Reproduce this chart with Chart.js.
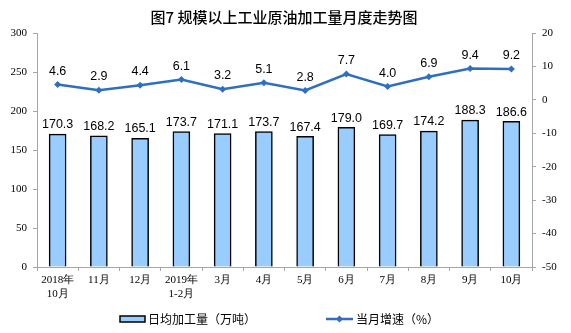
<!DOCTYPE html>
<html>
<head>
<meta charset="utf-8">
<script src="https://cdn.jsdelivr.net/npm/chart.js@4/dist/chart.umd.min.js"></script>
<style>
  html, body { margin: 0; padding: 0; background: #fff; }
  #wrap { width: 571px; height: 333px; }
</style>
</head>
<body>
<div id="wrap"><canvas id="myChart" width="571" height="333"></canvas></div>
<script>
const months = [
  ["2018年", "10月"], "11月", "12月", ["2019年", "1-2月"], "3月", "4月",
  "5月", "6月", "7月", "8月", "9月", "10月",
];
const dailyOutput = [170.3, 168.2, 165.1, 173.7, 171.1, 173.7, 167.4, 179.0, 169.7, 174.2, 188.3, 186.6];
const growthRate = [4.6, 2.9, 4.4, 6.1, 3.2, 5.1, 2.8, 7.7, 4.0, 6.9, 9.4, 9.2];
const leftTicks = [0, 50, 100, 150, 200, 250, 300];
const rightTicks = [-50, -40, -30, -20, -10, 0, 10, 20];

const titleText = "图7 规模以上工业原油加工量月度走势图";
const barLabel = "日均加工量（万吨）";
const lineLabel = "当月增速（%）";

const barColor = "#99CCFF";
const lineColor = "#2F6FBF";
const axisColor = "#A6A6A6";
const serif = "'Liberation Serif', 'Times New Roman', serif";
const sans = "'Liberation Sans', Arial, 'Noto Sans CJK SC', sans-serif";
const cjk = "'Noto Sans CJK SC', sans-serif";

// title, value labels and bottom legend
const extras = {
  id: "extras",
  afterDatasetsDraw(chart) {
    const c = chart.ctx;
    c.save();
    c.fillStyle = "#000";
    c.font = "500 15px " + cjk;
    c.textAlign = "center";
    c.textBaseline = "middle";
    c.fillText(titleText, 284, 17);

    c.font = "12.5px " + sans;
    c.textBaseline = "bottom";
    chart.getDatasetMeta(0).data.forEach((bar, i) => {
      c.fillText(dailyOutput[i].toFixed(1), bar.x, bar.y - 3);
    });
    chart.getDatasetMeta(1).data.forEach((pt, i) => {
      c.fillText(growthRate[i].toFixed(1), pt.x, pt.y - 7);
    });

    // legend
    c.font = "12px " + cjk;
    c.textAlign = "left";
    c.textBaseline = "middle";
    const ly = 319;
    c.fillStyle = barColor;
    c.strokeStyle = "#000";
    c.lineWidth = 1.5;
    c.fillRect(120, ly - 3, 25, 6);
    c.strokeRect(120, ly - 3, 25, 6);
    c.fillStyle = "#000";
    c.fillText(barLabel, 148, ly);

    c.strokeStyle = lineColor;
    c.lineWidth = 2.5;
    c.beginPath();
    c.moveTo(326, ly);
    c.lineTo(353, ly);
    c.stroke();
    c.fillStyle = lineColor;
    c.beginPath();
    c.moveTo(339.5, ly - 3.5);
    c.lineTo(343, ly);
    c.lineTo(339.5, ly + 3.5);
    c.lineTo(336, ly);
    c.closePath();
    c.fill();
    c.fillStyle = "#000";
    c.fillText(lineLabel, 356, ly);
    c.restore();
  },
};

const ctx = document.getElementById("myChart").getContext("2d");
new Chart(ctx, {
  data: {
    labels: months,
    datasets: [
      {
        type: "bar",
        label: barLabel,
        data: dailyOutput,
        yAxisID: "y",
        backgroundColor: barColor,
        borderColor: "#000",
        borderWidth: 1.5,
        barThickness: 17,
        order: 2,
      },
      {
        type: "line",
        label: lineLabel,
        data: growthRate,
        yAxisID: "y1",
        borderColor: lineColor,
        backgroundColor: lineColor,
        borderWidth: 2.5,
        pointStyle: "rectRot",
        pointRadius: 3.5,
        pointBorderWidth: 0,
        tension: 0,
        order: 1,
      },
    ],
  },
  options: {
    responsive: false,
    animation: false,
    layout: { padding: { top: 33, left: 0, right: 0, bottom: 0 } },
    plugins: {
      legend: { display: false },
      tooltip: { enabled: false },
    },
    scales: {
      x: {
        offset: true,
        grid: {
          offset: true,
          drawOnChartArea: false,
          drawTicks: true,
          tickLength: 4,
          color: axisColor,
        },
        border: { color: axisColor },
        ticks: {
          color: "#000",
          font: { family: serif, size: 11 },
          maxRotation: 0,
          autoSkip: false,
          padding: 3,
        },
        afterFit(scale) { scale.height = 66; },
      },
      y: {
        position: "left",
        min: 0,
        max: 300,
        afterBuildTicks(scale) { scale.ticks = leftTicks.map((v) => ({ value: v })); },
        grid: { drawOnChartArea: false, tickLength: 4, color: axisColor },
        border: { color: axisColor },
        ticks: { color: "#000", font: { family: serif, size: 11 }, padding: 6 },
        afterFit(scale) { scale.width = 37; },
      },
      y1: {
        position: "right",
        min: -50,
        max: 20,
        afterBuildTicks(scale) { scale.ticks = rightTicks.map((v) => ({ value: v })); },
        grid: { drawOnChartArea: false, tickLength: 4, color: axisColor },
        border: { color: axisColor },
        ticks: { color: "#000", font: { family: serif, size: 11 }, padding: 6 },
        afterFit(scale) { scale.width = 39; },
      },
    },
  },
  plugins: [extras],
});
</script>
</body>
</html>
